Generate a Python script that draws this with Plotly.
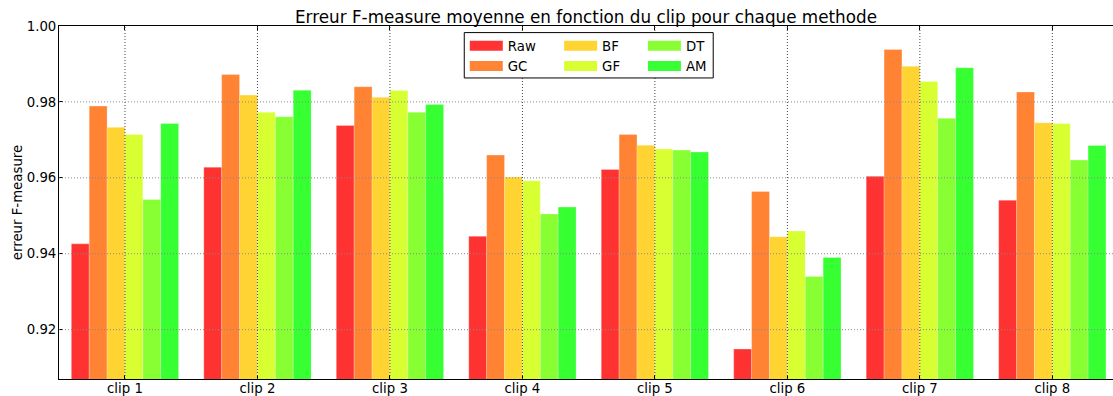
import plotly.graph_objects as go

# Mean F-measure per clip for each method
clips = ["clip 1", "clip 2", "clip 3", "clip 4", "clip 5", "clip 6", "clip 7", "clip 8"]
methods = ["Raw", "GC", "BF", "GF", "DT", "AM"]

raw = [0.9426, 0.9628, 0.9738, 0.9446, 0.9622, 0.9149, 0.9604, 0.9541]
gc = [0.9789, 0.9872, 0.9840, 0.9660, 0.9714, 0.9564, 0.9938, 0.9826]
bf = [0.9733, 0.9818, 0.9812, 0.9602, 0.9686, 0.9445, 0.9894, 0.9745]
gf = [0.9714, 0.9773, 0.9830, 0.9592, 0.9676, 0.9460, 0.9854, 0.9743]
dt = [0.9543, 0.9761, 0.9773, 0.9505, 0.9673, 0.9340, 0.9757, 0.9647]
am = [0.9743, 0.9831, 0.9793, 0.9523, 0.9668, 0.9390, 0.9890, 0.9685]

series = [raw, gc, bf, gf, dt, am]
base_rgb = [(255, 0, 0), (255, 101, 0), (255, 202, 0),
            (207, 255, 0), (107, 255, 0), (5, 255, 0)]
alpha = 0.8

y_ticks = [0.92, 0.94, 0.96, 0.98, 1.00]
y_range = [0.9070, 1.0]
x_range = [-0.498, 7.458]

FONT = "DejaVu Sans"

fig = go.Figure()

for name, vals, rgb in zip(methods, series, base_rgb):
    fig.add_trace(go.Bar(
        x=clips, y=vals, name=name, showlegend=False,
        marker=dict(color="rgb(%d,%d,%d)" % rgb,
                    line=dict(width=0.6, color="rgba(255,255,255,0.45)")),
        opacity=alpha,
    ))

# legend entries: three columns of two items each
legend_ids = ["legend", "legend2", "legend3"]
for i, (name, rgb) in enumerate(zip(methods, base_rgb)):
    fig.add_trace(go.Scatter(
        x=[None], y=[None], mode="lines", name=name,
        line=dict(color="rgba(%d,%d,%d,%.2f)" % (rgb + (alpha,)), width=11),
        legend=legend_ids[i // 2], showlegend=True,
    ))

# dotted grid drawn over the bars
for c in clips:
    fig.add_vline(x=c, line=dict(color="#444444", width=1, dash="1px,2px"), layer="above")
for v in y_ticks[:-1]:
    fig.add_hline(y=v, line=dict(color="#8a8a8a", width=1, dash="1px,2px"), layer="above")

# legend frame
fig.add_shape(type="rect", xref="paper", yref="paper",
              x0=0.3845, x1=0.6207, y0=0.8528, y1=0.9813,
              line=dict(color="black", width=1), fillcolor="white", layer="above")

leg_common = dict(bgcolor="rgba(0,0,0,0)", borderwidth=0, orientation="v",
                  xanchor="left", yanchor="top", y=0.987,
                  font=dict(family=FONT, size=13.3, color="black"),
                  tracegroupgap=0, itemwidth=33)

fig.update_layout(
    width=1113, height=396,
    margin=dict(l=58.5, r=0, t=25.7, b=17, autoexpand=False),
    paper_bgcolor="white", plot_bgcolor="white",
    bargap=0.19, bargroupgap=0, barmode="group",
    title=dict(text="Erreur F-measure moyenne en fonction du clip pour chaque methode",
               x=0.5, xanchor="center", xref="paper", y=0.957, yanchor="middle",
               font=dict(family=FONT, size=16.8, color="black")),
    font=dict(family=FONT, size=13.3, color="black"),
    legend=dict(x=0.385, **leg_common),
    legend2=dict(x=0.4745, **leg_common),
    legend3=dict(x=0.554, **leg_common),
    xaxis=dict(type="category", range=x_range, showgrid=False,
               showline=True, linecolor="black", linewidth=1, mirror="ticks",
               ticks="inside", ticklen=4, tickcolor="black",
               ticklabelstandoff=-3,
               tickfont=dict(family=FONT, size=13.3, color="black"),
               automargin=False, zeroline=False),
    yaxis=dict(range=y_range, tickvals=y_ticks, ticktext=["%.2f" % v for v in y_ticks],
               showgrid=False, showline=True, linecolor="black", linewidth=1,
               ticks="inside", ticklen=4, tickcolor="black",
               ticklabelstandoff=-1,
               tickfont=dict(family=FONT, size=13.3, color="black"),
               title=dict(text="erreur F-measure", standoff=1,
                          font=dict(family=FONT, size=13.3, color="black")),
               automargin=False, zeroline=False),
)

fig.write_html("out.html")
